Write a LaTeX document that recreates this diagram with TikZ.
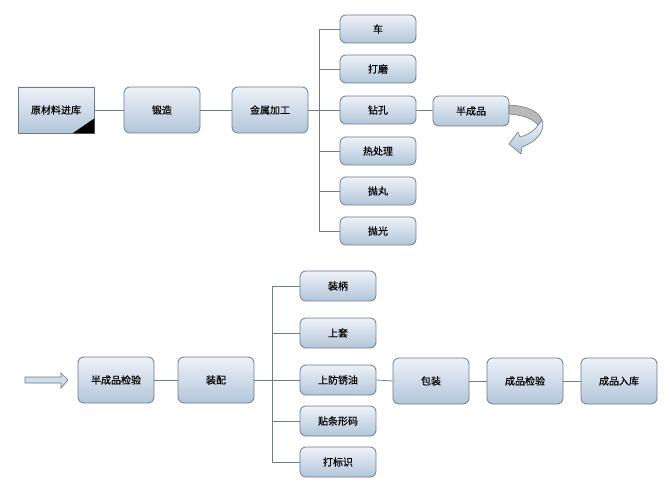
\documentclass[tikz,border=0pt]{standalone}
\usepackage{fontspec}
\newfontfamily\cjk[FakeBold=0.4]{Noto Sans CJK SC}
\definecolor{boxtop}{HTML}{EEF2F8}
\definecolor{boxbot}{HTML}{B2C6DA}
\definecolor{boxline}{HTML}{6A7A8A}
\definecolor{conn}{HTML}{6F7D8B}
\begin{document}
\begin{tikzpicture}[x=1pt,y=-1pt,
  proc/.style={draw=boxline, line width=0.8pt, rounded corners=6pt, top color=boxtop, bottom color=boxbot,
    minimum width=76pt, minimum height=46pt, inner sep=0pt, font=\cjk\fontsize{10}{12}\selectfont},
  sub/.style={proc, minimum height=28pt},
  link/.style={draw=conn, line width=0.8pt}]
\useasboundingbox (0,0) rectangle (670,489);
% top row
\node[proc, rounded corners=0pt] (ycl) at (56,110) {原材料进库};
\fill[black] (ycl.south east) -- ++(-22,0) -- ++(22,-15) -- cycle;
\node[proc] (dz) at (162,110) {锻造};
\node[proc] (jsjg) at (270,110) {金属加工};
\node[sub] (che) at (378,29) {车};
\node[sub] (dm) at (378,69) {打磨};
\node[sub] (zk) at (378,110) {钻孔};
\node[sub] (rcl) at (378,151) {热处理};
\node[sub] (pw) at (378,191) {抛丸};
\node[sub] (pg) at (378,231) {抛光};
\node[sub, minimum height=30pt] (bcp) at (471,111) {半成品};
\coordinate (t1) at (319,110);
\draw[link] (ycl) -- (dz);
\draw[link] (dz) -- (jsjg);
\draw[link] (jsjg) -- (t1);
\draw[link] (che.west -| t1) -- (pg.west -| t1);
\foreach \n in {che,dm,zk,rcl,pw,pg} \draw[link] (\n.west -| t1) -- (\n.west);
\draw[link] (zk) -- (bcp);
% curved arrow: grey back of the ribbon, blue front with head
\filldraw[fill=gray!55, draw=boxline, line width=0.6pt]
  (509,105) .. controls (528,106) and (539,112) .. (542,120)
  -- (538,125) .. controls (532,118) and (522,115) .. (509,114) -- cycle;
\shade[top color=boxtop, bottom color=boxbot, draw=boxline, line width=0.6pt]
  (542,120) .. controls (546,131) and (536,142) .. (522,147)
  -- (521,154) -- (509,144) -- (518,132) -- (520,137)
  .. controls (530,134) and (535,130) .. (538,125) -- cycle;
% bottom row
\draw[draw=boxline, fill=boxtop!50!boxbot, line width=0.7pt]
  (25,377) -- (61,377) -- (61,373) -- (68,380) -- (61,388) -- (61,383) -- (25,383) -- cycle;
\node[proc] (bjy) at (116,380) {半成品检验};
\node[proc] (zp) at (216,380) {装配};
\node[sub, minimum height=30pt] (zb) at (338,286) {装柄};
\node[sub, minimum height=30pt] (st) at (338,333) {上套};
\node[sub, minimum height=30pt] (fxy) at (338,380) {上防锈油};
\node[sub, minimum height=30pt] (txm) at (338,421) {贴条形码};
\node[sub, minimum height=30pt] (dbs) at (338,462) {打标识};
\node[proc] (bz) at (431,381) {包装};
\node[proc] (cjy) at (525,381) {成品检验};
\node[proc] (crk) at (619,381) {成品入库};
\coordinate (t2) at (272,380);
\draw[link] (bjy) -- (zp);
\draw[link] (zp) -- (t2);
\draw[link] (zb.west -| t2) -- (dbs.west -| t2);
\foreach \n in {zb,st,fxy,txm,dbs} \draw[link] (\n.west -| t2) -- (\n.west);
\draw[link] (fxy.east) -- (bz.west);
\draw[link] (bz) -- (cjy);
\draw[link] (cjy) -- (crk);
\end{tikzpicture}
\end{document}
